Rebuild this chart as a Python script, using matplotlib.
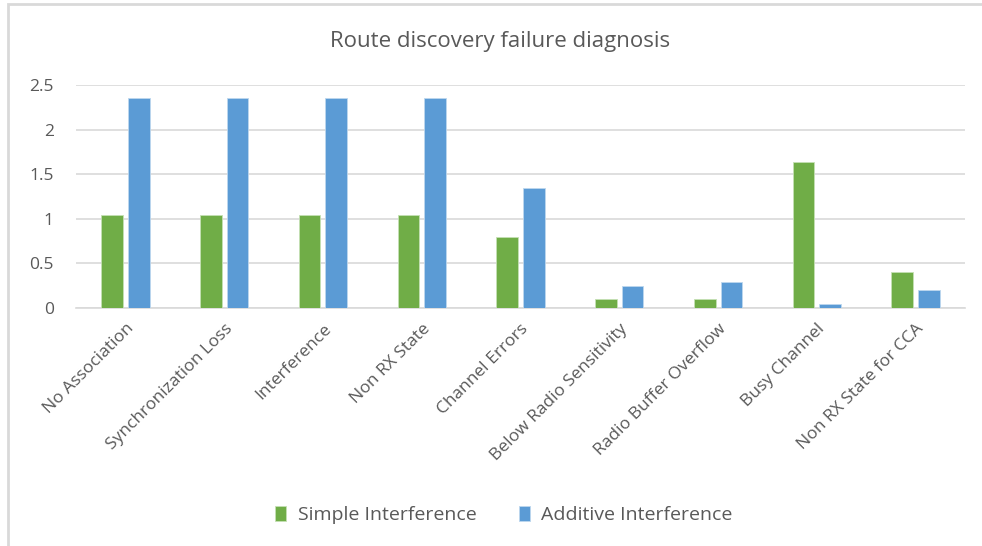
import matplotlib
matplotlib.use("Agg")
import matplotlib.pyplot as plt
import numpy as np
from matplotlib.patches import Rectangle

plt.rcParams['font.family'] = ['Open Sans', 'DejaVu Sans']

categories = ["No Association", "Synchronization Loss", "Interference", "Non RX State",
              "Channel Errors", "Below Radio Sensitivity", "Radio Buffer Overflow",
              "Busy Channel", "Non RX State for CCA"]
simple = [1.04, 1.04, 1.04, 1.04, 0.80, 0.10, 0.10, 1.64, 0.40]
additive = [2.35, 2.35, 2.35, 2.35, 1.345, 0.25, 0.295, 0.045, 0.20]
yticks = [0, 0.5, 1, 1.5, 2, 2.5]
ytick_labels = ["0", "0.5", "1", "1.5", "2", "2.5"]

green = "#70AD47"
blue = "#5B9BD5"
txt = "#595959"

fig = plt.figure(figsize=(9.82, 5.46), dpi=100)
# chart border (cropped Excel frame)
fig.patches.append(Rectangle((8 / 982, -0.05), 1.2, 1 - 4 / 546 + 0.05,
                             transform=fig.transFigure, fill=False,
                             edgecolor="#D9D9D9", linewidth=2))

ax = fig.add_axes([76 / 982, 1 - 308 / 546, 889 / 982, 223 / 546])
x = np.arange(len(categories))
w = 0.22
off = 0.135
ax.bar(x - off, simple, w, color=green, edgecolor="#C5E0B4", linewidth=0.6, label="Simple Interference", zorder=3)
ax.bar(x + off, additive, w, color=blue, edgecolor="#BDD7EE", linewidth=0.6, label="Additive Interference", zorder=3)

ax.set_xlim(-0.5, len(categories) - 0.5)
ax.set_ylim(0, 2.5)
ax.set_yticks(yticks)
ax.set_yticklabels(ytick_labels)
ax.yaxis.grid(True, color="#D9D9D9", linewidth=1.2, zorder=0)
for s in ["top", "right", "left"]:
    ax.spines[s].set_visible(False)
ax.spines["bottom"].set_color("#D9D9D9")
ax.spines["bottom"].set_linewidth(1.2)
ax.tick_params(axis="both", length=0, colors=txt)
ax.tick_params(axis="y", pad=16, labelsize=12.5)
ax.set_xticks(x)
ax.set_xticklabels(categories, rotation=45, ha="right", rotation_mode="anchor", fontsize=12.5, color=txt)
ax.tick_params(axis="x", pad=9)

fig.text(500 / 982, 1 - 42 / 546, "Route discovery failure diagnosis", ha="center", va="center",
         fontsize=16, color=txt)

leg = fig.legend(loc="center", bbox_to_anchor=(504 / 982, 1 - 515 / 546), ncol=2, frameon=False,
                 fontsize=14, handlelength=0.55, handleheight=0.8, columnspacing=2.2, handletextpad=0.6)
for t in leg.get_texts():
    t.set_color(txt)

fig.savefig("out.png", dpi=100, facecolor="white")
